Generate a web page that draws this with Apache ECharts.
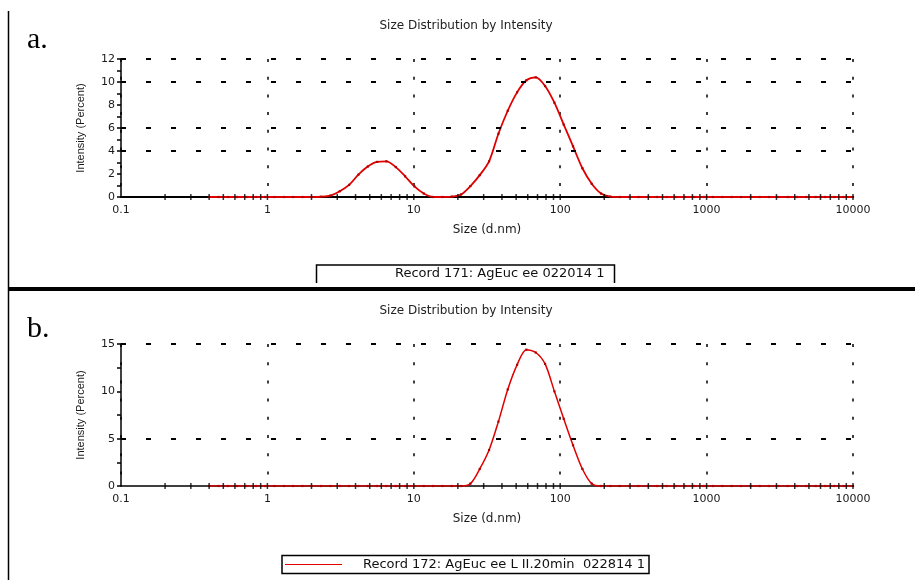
<!DOCTYPE html>
<html>
<head>
<meta charset="utf-8">
<title>Size Distribution by Intensity</title>
<script src="https://cdn.jsdelivr.net/npm/echarts@6/dist/echarts.min.js"></script>
<style>
  html, body { margin: 0; padding: 0; background: #fff; }
  #chart { width: 915px; height: 580px; }
</style>
</head>
<body>
<div id="chart"></div>
<script>
// Size classes (d.nm) of the intensity distributions
const sizes = [
  0.4, 0.4632, 0.5365, 0.6213, 0.7195, 0.8332, 0.9649, 1.117, 1.294, 1.499,
  1.736, 2.01, 2.328, 2.696, 3.122, 3.615, 4.187, 4.849, 5.615, 6.503,
  7.531, 8.721, 10.1, 11.7, 13.54, 15.69, 18.17, 21.04, 24.36, 28.21,
  32.67, 37.84, 43.82, 50.75, 58.77, 68.06, 78.82, 91.28, 105.7, 122.4,
  141.8, 164.2, 190.1, 220.2, 255, 295.3, 342, 396.1, 458.7, 531.2,
  615.1, 712.4, 825, 955.4, 1106, 1281, 1484, 1718, 1990, 2305,
  2669, 3091, 3580, 4145, 4801, 5560, 6439, 7456, 8635, 10000
];

// Record 171: intensity (%) per size class
const intensityA = [
  0, 0, 0, 0, 0, 0, 0, 0, 0, 0,
  0, 0, 0.02, 0.12, 0.5, 1.05, 1.95, 2.65, 3.05, 3.1,
  2.6, 1.8, 0.92, 0.3, 0, 0, 0.03, 0.22, 0.95, 1.9,
  3.1, 5.5, 7.5, 9.1, 10.15, 10.4, 9.65, 8.2, 6.3, 4.4,
  2.5, 1.15, 0.3, 0.03, 0, 0, 0, 0, 0, 0,
  0, 0, 0, 0, 0, 0, 0, 0, 0, 0,
  0, 0, 0, 0, 0, 0, 0, 0, 0, 0
];

// Record 172: intensity (%) per size class
const intensityB = [
  0, 0, 0, 0, 0, 0, 0, 0, 0, 0,
  0, 0, 0, 0, 0, 0, 0, 0, 0, 0,
  0, 0, 0, 0, 0, 0, 0, 0, 0.25, 1.8,
  3.8, 6.8, 10.2, 12.8, 14.4, 14.1, 12.9, 10.0, 7.1, 4.3,
  1.8, 0.25, 0, 0, 0, 0, 0, 0, 0, 0,
  0, 0, 0, 0, 0, 0, 0, 0, 0, 0,
  0, 0, 0, 0, 0, 0, 0, 0, 0, 0
];

const recordNameA = 'Record 171: AgEuc ee 022014 1';
const recordNameB = 'Record 172: AgEuc ee L II.20min  022814 1';

// Intermediate log ticks (2..9 per decade) plus decade ticks
const logTickValues = [
  0.2, 0.3, 0.4, 0.5, 0.6, 0.7, 0.8, 0.9, 1,
  2, 3, 4, 5, 6, 7, 8, 9, 10,
  20, 30, 40, 50, 60, 70, 80, 90, 100,
  200, 300, 400, 500, 600, 700, 800, 900, 1000,
  2000, 3000, 4000, 5000, 6000, 7000, 8000, 9000, 10000
];

// Dashed reference levels on each intensity axis
const gridLevelsA = [4, 6, 10, 12];
const gridLevelsB = [5, 15];

const TEXT = '#1a1a1a';
const SANS = '"DejaVu Sans", sans-serif';
const RED = '#e00000';

function sizeAxis(gridIndex, axisWidth, dash) {
  return {
    type: 'log', logBase: 10, gridIndex: gridIndex,
    min: 0.1, max: 10000,
    name: 'Size (d.nm)', nameLocation: 'middle', nameGap: 27,
    nameTextStyle: { color: TEXT, fontSize: 12, fontFamily: SANS },
    axisLine: { show: true, onZero: false, lineStyle: { color: '#000', width: axisWidth } },
    axisTick: { show: false },
    minorTick: { show: false },
    axisLabel: { color: TEXT, fontSize: 11, fontFamily: SANS, margin: 8,
                 showMinLabel: true, showMaxLabel: true, hideOverlap: false,
                 formatter: v => String(Number(v.toPrecision(6))) },
    splitLine: { show: true, lineStyle: { color: '#000', width: 1.5, type: dash } },
    minorSplitLine: { show: false }
  };
}

function intensityAxis(gridIndex, max, interval) {
  return {
    type: 'value', gridIndex: gridIndex,
    min: 0, max: max, interval: interval,
    name: 'Intensity (Percent)', nameLocation: 'middle', nameGap: 35, nameRotate: 90,
    nameTextStyle: { color: TEXT, fontSize: 11, fontFamily: '"Liberation Sans", Arial, sans-serif' },
    axisLine: { show: true, lineStyle: { color: '#000', width: 1.5 } },
    axisTick: { show: true, length: 4, lineStyle: { color: '#000', width: 1.5 } },
    minorTick: { show: true, splitNumber: 2, length: 4, lineStyle: { color: '#000', width: 1.5 } },
    axisLabel: { color: TEXT, fontSize: 11, fontFamily: SANS, margin: 6 },
    splitLine: { show: false }
  };
}

function curveSeries(name, values, xi, width) {
  return {
    name: name, type: 'line', xAxisIndex: xi, yAxisIndex: xi,
    data: sizes.map((s, i) => [s, values[i]]),
    smooth: 0.3,
    showSymbol: true, symbol: 'rect', symbolSize: 2.2,
    itemStyle: { color: '#b00000' },
    lineStyle: { color: RED, width: width },
    z: 3, silent: true
  };
}

function levelLines(levels, xi) {
  return {
    type: 'line', xAxisIndex: xi, yAxisIndex: xi, data: [], silent: true,
    markLine: {
      silent: true, symbol: 'none', label: { show: false },
      lineStyle: { color: '#000', width: 2, type: [5, 20] },
      data: levels.map(v => ({ yAxis: v }))
    },
    z: 1
  };
}

function tickMarks(xi) {
  return {
    type: 'scatter', xAxisIndex: xi, yAxisIndex: xi, silent: true,
    data: logTickValues.map(v => [v, 0]),
    symbol: 'rect', symbolSize: [1.5, 6],
    itemStyle: { color: '#000' },
    z: 5
  };
}

const chart = echarts.init(document.getElementById('chart'), null, { renderer: 'canvas' });

chart.setOption({
  animation: false,
  backgroundColor: '#fff',
  title: [
    { text: 'Size Distribution by Intensity', left: 466, top: 20, textAlign: 'center', padding: 0,
      textStyle: { color: '#222', fontSize: 12, fontWeight: 'normal', fontFamily: SANS } },
    { text: 'Size Distribution by Intensity', left: 466, top: 305, textAlign: 'center', padding: 0,
      textStyle: { color: '#222', fontSize: 12, fontWeight: 'normal', fontFamily: SANS } }
  ],
  grid: [
    { left: 121, top: 59, width: 732, height: 138, containLabel: false, outerBoundsMode: 'none' },
    { left: 121, top: 344, width: 732, height: 142, containLabel: false, outerBoundsMode: 'none' }
  ],
  xAxis: [sizeAxis(0, 2, [3, 14.7]), sizeAxis(1, 1.5, [3, 15.2])],
  yAxis: [intensityAxis(0, 12, 2), intensityAxis(1, 15, 5)],
  series: [
    levelLines(gridLevelsA, 0),
    levelLines(gridLevelsB, 1),
    curveSeries(recordNameA, intensityA, 0, 1.8),
    curveSeries(recordNameB, intensityB, 1, 1.5),
    tickMarks(0),
    tickMarks(1)
  ],
  graphic: [
    // frame: left rule and the separator between the two records
    { type: 'line', shape: { x1: 8.5, y1: 11, x2: 8.5, y2: 580 }, style: { stroke: '#000', lineWidth: 1.5 }, silent: true },
    { type: 'rect', shape: { x: 8, y: 287, width: 907, height: 4 }, style: { fill: '#000' }, silent: true },
    // panel letters
    { type: 'text', x: 27, y: 40, silent: true,
      style: { text: 'a.', font: '30px "Liberation Serif", "Times New Roman", serif', fill: '#000', verticalAlign: 'middle' } },
    { type: 'text', x: 27, y: 329, silent: true,
      style: { text: 'b.', font: '30px "Liberation Serif", "Times New Roman", serif', fill: '#000', verticalAlign: 'middle' } },
    // record key, panel a
    { type: 'polyline', silent: true,
      shape: { points: [[316.5, 283], [316.5, 265], [614.5, 265], [614.5, 283]] },
      style: { stroke: '#000', lineWidth: 1.5, fill: null } },
    { type: 'text', x: 395, y: 274, silent: true,
      style: { text: recordNameA, font: '13px "DejaVu Sans", sans-serif', fill: '#111', verticalAlign: 'middle' } },
    // record key, panel b
    { type: 'rect', silent: true,
      shape: { x: 282, y: 555.5, width: 367, height: 18 },
      style: { stroke: '#000', lineWidth: 1.5, fill: '#fff' } },
    { type: 'line', silent: true,
      shape: { x1: 285, y1: 564.5, x2: 342, y2: 564.5 },
      style: { stroke: RED, lineWidth: 1.2 } },
    { type: 'text', x: 363, y: 565, silent: true,
      style: { text: recordNameB, font: '13px "DejaVu Sans", sans-serif', fill: '#111', verticalAlign: 'middle' } }
  ]
});
</script>
</body>
</html>
